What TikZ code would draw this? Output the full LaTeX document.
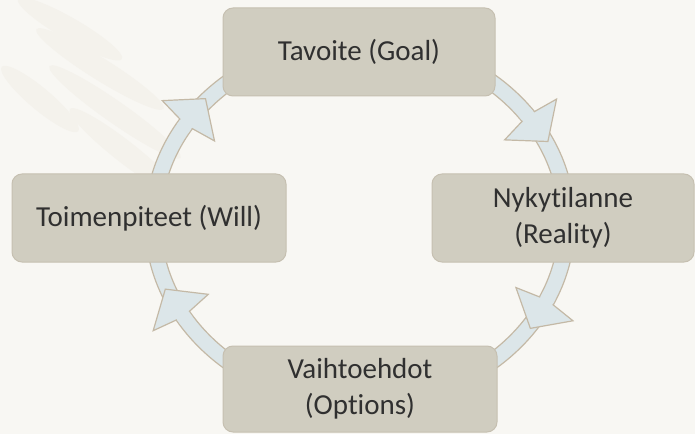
\documentclass[tikz,border=0pt]{standalone}
\usepackage{fontspec}
\setmainfont{Carlito}[Ligatures={NoCommon,NoContextual}]
\usetikzlibrary{calc}
\definecolor{bgcol}{HTML}{F8F7F3}
\definecolor{featcol}{HTML}{F4F2EC}
\definecolor{boxfill}{HTML}{D0CDC0}
\definecolor{boxline}{HTML}{C6C0B1}
\definecolor{bandfill}{HTML}{DCE6E9}
\definecolor{bandline}{HTML}{C4B9A6}
\definecolor{txtcol}{HTML}{303030}
\tikzset{
  stepbox/.style={draw=boxline, line width=1pt, fill=boxfill, rounded corners=10pt,
    inner sep=0pt, align=center, text=txtcol,
    font=\fontsize{29}{36}\selectfont},
  band/.style={fill=bandfill, draw=bandline, line width=1.2pt, line join=miter},
  feather/.style={fill=featcol, draw=none}
}
\begin{document}
\begin{tikzpicture}[x=1pt, y=1pt]
  % background
  \fill[bgcol] (0,0) rectangle (695,434);
  \useasboundingbox (0,0) rectangle (695,434);
  % faint feather watermark
  \foreach \xx/\yy/\rot/\len in {70/405/-30/60, 100/365/-32/75, 115/322/-35/80, 125/282/-38/70, 40/335/-40/50}{
    \fill[feather, rotate around={\rot:(\xx,\yy)}] (\xx,\yy) ellipse[x radius=\len, y radius=11];
  }
  \coordinate (c) at (360,212);
  % ring band
  \filldraw[band, even odd rule] (c) ellipse[x radius=215, y radius=189]
                                 (c) ellipse[x radius=199, y radius=173];
  % arrowheads
  \foreach \a in {34.5,-27,-150,146}{
    \pgfmathsetmacro\cs{cos(\a)}
    \pgfmathsetmacro\sn{sin(\a)}
    \pgfmathsetmacro\px{360+207*\cs}
    \pgfmathsetmacro\py{212+181*\sn}
    \pgfmathsetmacro\tx{207*\sn}
    \pgfmathsetmacro\ty{-181*\cs}
    \pgfmathsetmacro\tl{veclen(\tx,\ty)}
    \pgfmathsetmacro\ux{\tx/\tl}
    \pgfmathsetmacro\uy{\ty/\tl}
    \filldraw[band] ({\px+28*(\ux)},{\py+28*(\uy)})
      -- ({\px+33*(\uy)},{\py-33*(\ux)})
      -- ({\px-5*(\ux)},{\py-5*(\uy)})
      -- ({\px-33*(\uy)},{\py+33*(\ux)}) -- cycle;
    \begin{scope}
      \clip ({\px-10*(\ux)+12*(\uy)},{\py-10*(\uy)-12*(\ux)})
         -- ({\px-10*(\ux)-12*(\uy)},{\py-10*(\uy)+12*(\ux)})
         -- ({\px+2*(\ux)-12*(\uy)},{\py+2*(\uy)+12*(\ux)})
         -- ({\px+2*(\ux)+12*(\uy)},{\py+2*(\uy)-12*(\ux)}) -- cycle;
      \fill[bandfill, even odd rule] (c) ellipse[x radius=214.1, y radius=188.1]
                                     (c) ellipse[x radius=199.9, y radius=173.9];
    \end{scope}
  }
  % boxes
  \node[stepbox, minimum width=272pt, minimum height=88pt] (goal) at (359,382) {Tavoite (Goal)};
  \node[stepbox, minimum width=262pt, minimum height=88pt] (reality) at (563,216) {Nykyt\kern0pt ilanne\\(Reality)};
  \node[stepbox, minimum width=274pt, minimum height=86pt] (options) at (360,45) {Vaihtoehdot\\(Opt\kern0pt ions)};
  \node[stepbox, minimum width=274pt, minimum height=88pt] (will) at (149,216) {Toimenpiteet (Will)};
\end{tikzpicture}
\end{document}
